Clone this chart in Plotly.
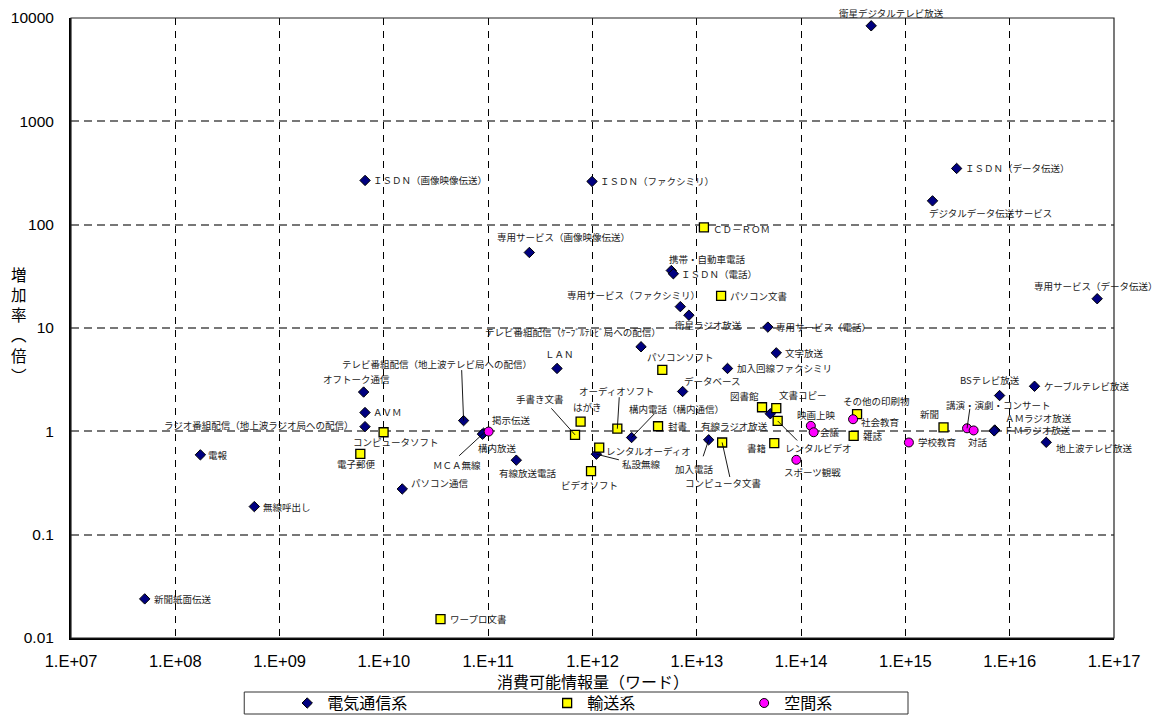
import math
import plotly.graph_objects as go

# ---- data -------------------------------------------------------------
# 電気通信系
tele_names = [
    "衛星デジタルテレビ放送", "ＩＳＤＮ（データ伝送）", "デジタルデータ伝送サービス",
    "専用サービス（データ伝送）", "ＩＳＤＮ（画像映像伝送）", "ＩＳＤＮ（ファクシミリ）",
    "専用サービス（画像映像伝送）", "携帯・自動車電話", "ＩＳＤＮ（電話）",
    "専用サービス（ファクシミリ）", "衛星ラジオ放送", "専用サービス（電話）",
    "テレビ番組配信（ｹｰﾌﾞﾙﾃﾚﾋﾞ局への配信）", "文字放送", "加入回線ファクシミリ",
    "ＬＡＮ", "データベース", "テレビ番組配信（地上波テレビ局への配信）",
    "オフトーク通信", "ＡＶＭ", "ラジオ番組配信（地上波ラジオ局への配信）",
    "電報", "無線呼出し", "パソコン通信", "新聞紙面伝送", "ＭＣＡ無線", "構内放送",
    "有線放送電話", "構内電話（構内通信）", "私設無線", "加入電話", "有線ラジオ放送",
    "BSテレビ放送", "ケーブルテレビ放送", "ＡＭラジオ放送", "ＦＭラジオ放送",
    "地上波テレビ放送",
]
tele_x = [
    4.7e14, 3.1e15, 1.82e15,
    6.9e16, 6.6e9, 9.9e11,
    2.48e11, 5.7e12, 5.96e12,
    6.95e12, 8.4e12, 4.8e13,
    2.92e12, 5.78e13, 1.97e13,
    4.57e11, 7.31e12, 5.81e10,
    6.39e9, 6.59e9, 6.59e9,
    1.74e8, 5.72e8, 1.5e10, 5.09e7, 9.04e10, 8.8e10,
    1.86e11, 2.37e12, 1.09e12, 1.30e13, 5.07e13,
    8.0e15, 1.73e16, 7.2e15, 7.1e15,
    2.24e16,
]
tele_y = [
    8400, 350, 170,
    19.2, 268, 262,
    53.8, 36, 33.5,
    16.1, 13.3, 10.2,
    6.58, 5.75, 4.06,
    4.06, 2.43, 1.27,
    2.40, 1.52, 1.11,
    0.592, 0.187, 0.277, 0.0239, 0.96, 0.94,
    0.526, 0.871, 0.601, 0.828, 1.48,
    2.22, 2.73, 1.03, 1.01,
    0.783,
]

# 輸送系
trans_names = [
    "ＣＤ－ＲＯＭ", "パソコン文書", "パソコンソフト", "手書き文書", "はがき",
    "オーディオソフト", "封書", "レンタルオーディオ", "ビデオソフト", "コンピュータ文書",
    "図書館", "文書コピー", "レンタルビデオ", "書籍", "その他の印刷物", "雑誌", "新聞",
    "電子郵便", "コンピュータソフト", "ワープロ文書",
]
trans_x = [
    1.17e13, 1.71e13, 4.67e12, 6.8e11, 7.69e11,
    1.73e12, 4.25e12, 1.16e12, 9.68e11, 1.75e13,
    4.22e13, 5.78e13, 5.96e13, 5.53e13, 3.44e14, 3.19e14, 2.32e15,
    5.94e9, 9.93e9, 3.49e10,
]
trans_y = [
    94, 20.5, 3.94, 0.925, 1.24,
    1.06, 1.12, 0.697, 0.412, 0.78,
    1.71, 1.68, 1.26, 0.769, 1.47, 0.905, 1.09,
    0.605, 0.98, 0.0152,
]

# 空間系
space_names = [
    "掲示伝送", "映画上映", "会議", "社会教育", "スポーツ観戦", "学校教育",
    "講演・演劇・コンサート", "対話",
]
space_x = [1.01e11, 1.24e14, 1.32e14, 3.15e14, 9.0e13, 1.08e15, 3.9e15, 4.51e15]
space_y = [0.995, 1.13, 0.98, 1.31, 0.53, 0.78, 1.07, 1.02]

x_tickvals = [1e7, 1e8, 1e9, 1e10, 1e11, 1e12, 1e13, 1e14, 1e15, 1e16, 1e17]
x_ticktext = ["1.E+07", "1.E+08", "1.E+09", "1.E+10", "1.E+11", "1.E+12",
              "1.E+13", "1.E+14", "1.E+15", "1.E+16", "1.E+17"]
y_tickvals = [0.01, 0.1, 1, 10, 100, 1000, 10000]
y_ticktext = ["0.01", "0.1", "1", "10", "100", "1000", "10000"]

# ---- label placement (anchor, dx, dy in screen px; dy>0 is downward) ----
label_pos = {
    "衛星デジタルテレビ放送": ("c", 20, -13),
    "ＩＳＤＮ（データ伝送）": ("l", 6, 0),
    "デジタルデータ伝送サービス": ("c", 58, 12),
    "専用サービス（データ伝送）": ("c", -1, -13),
    "ＩＳＤＮ（画像映像伝送）": ("l", 6, 0),
    "ＩＳＤＮ（ファクシミリ）": ("l", 6, 0),
    "専用サービス（画像映像伝送）": ("c", 34, -15),
    "携帯・自動車電話": ("c", 36, -12),
    "ＩＳＤＮ（電話）": ("l", 6, 0),
    "専用サービス（ファクシミリ）": ("c", -47, -12),
    "衛星ラジオ放送": ("c", 20, 10),
    "専用サービス（電話）": ("l", 6, 0),
    "テレビ番組配信（ｹｰﾌﾞﾙﾃﾚﾋﾞ局への配信）": ("c", -68, -15),
    "文字放送": ("l", 7, 0),
    "加入回線ファクシミリ": ("l", 7, 0),
    "ＬＡＮ": ("c", 2, -14),
    "データベース": ("c", 30, -10),
    "テレビ番組配信（地上波テレビ局への配信）": ("c", -27, -57),
    "オフトーク通信": ("c", -7, -13),
    "ＡＶＭ": ("l", 6, -1),
    "ラジオ番組配信（地上波ラジオ局への配信）": ("r", -9, -2),
    "電報": ("l", 6, 0),
    "無線呼出し": ("l", 7, 0),
    "パソコン通信": ("l", 7, -6),
    "新聞紙面伝送": ("l", 7, 0),
    "ＭＣＡ無線": ("c", -27, 32),
    "構内放送": ("c", 15, 14),
    "有線放送電話": ("c", 12, 13),
    "構内電話（構内通信）": ("c", 45, -29),
    "私設無線": ("c", 45, 10),
    "加入電話": ("c", -14, 29),
    "有線ラジオ放送": ("c", -36, 12),
    "BSテレビ放送": ("c", -10, -16),
    "ケーブルテレビ放送": ("l", 7, 0),
    "ＡＭラジオ放送": ("l", 8, -12),
    "ＦＭラジオ放送": ("l", 8, -1),
    "地上波テレビ放送": ("l", 8, 6),
    "ＣＤ－ＲＯＭ": ("l", 7, 2),
    "パソコン文書": ("l", 7, 0),
    "パソコンソフト": ("c", 18, -13),
    "手書き文書": ("c", -35, -36),
    "はがき": ("c", 7, -15),
    "オーディオソフト": ("c", -1, -38),
    "封書": ("l", 8, 0),
    "レンタルオーディオ": ("l", 5, 3),
    "ビデオソフト": ("c", -2, 14),
    "コンピュータ文書": ("c", 1, 41),
    "図書館": ("c", -18, -11),
    "文書コピー": ("c", 27, -13),
    "レンタルビデオ": ("c", 41, 27),
    "書籍": ("r", -6, 5),
    "その他の印刷物": ("c", 19, -13),
    "雑誌": ("l", 7, 0),
    "新聞": ("c", -14, -13),
    "電子郵便": ("c", -4, 10),
    "コンピュータソフト": ("c", 12, 10),
    "ワープロ文書": ("l", 7, 0),
    "掲示伝送": ("c", 23, -12),
    "映画上映": ("c", 6, -11),
    "会議": ("l", 4, 0),
    "社会教育": ("l", 6, 3),
    "スポーツ観戦": ("c", 16, 12),
    "学校教育": ("l", 7, 0),
    "講演・演劇・コンサート": ("c", 31, -23),
    "対話": ("c", 4, 12),
}

# leader lines: tail offset (px) from the marker
leaders = {
    "テレビ番組配信（地上波テレビ局への配信）": (-2, -52),
    "ＭＣＡ無線": (-26, 24),
    "構内電話（構内通信）": (24, -25),
    "私設無線": (24, 6),
    "加入電話": (-6, 18),
    "手書き文書": (-25, -28),
    "オーディオソフト": (2, -33),
    "コンピュータ文書": (8, 36),
    "レンタルビデオ": (21, 21),
    "講演・演劇・コンサート": (3, -21),
}

LABEL_FONT = dict(family="Noto Sans CJK JP", size=9.5, color="#1a1a1a")

fig = go.Figure()

groups = [
    ("電気通信系", tele_names, tele_x, tele_y,
     dict(symbol="diamond", size=8, color="#000080", line=dict(color="black", width=1))),
    ("輸送系", trans_names, trans_x, trans_y,
     dict(symbol="square", size=9, color="#FFFF00", line=dict(color="black", width=1.3))),
    ("空間系", space_names, space_x, space_y,
     dict(symbol="circle", size=9, color="#FF00FF", line=dict(color="black", width=1))),
]

annotations = []
for i, (gname, names, xs, ys, mk) in enumerate(groups):
    fig.add_trace(go.Scatter(
        x=xs, y=ys, mode="markers", name=gname, marker=mk,
        text=names, hoverinfo="text+x+y", showlegend=True,
        legend="legend" if i == 0 else f"legend{i + 1}",
    ))
    for n, xv, yv in zip(names, xs, ys):
        # annotations on log axes are placed in log10 units
        lx, ly = math.log10(xv), math.log10(yv)
        if n in leaders:
            ax, ay = leaders[n]
            annotations.append(dict(
                x=lx, y=ly, xref="x", yref="y", text="", showarrow=True,
                arrowhead=0, arrowwidth=0.9, arrowcolor="black",
                ax=ax, ay=ay, axref="pixel", ayref="pixel", standoff=0,
            ))
        anc, dx, dy = label_pos[n]
        annotations.append(dict(
            x=lx, y=ly, xref="x", yref="y", text=n, showarrow=False,
            xanchor={"l": "left", "r": "right", "c": "center"}[anc],
            yanchor="middle", xshift=dx, yshift=-dy, font=LABEL_FONT,
        ))

# axis titles
annotations.append(dict(
    x=0.5006, y=-0.0700, xref="paper", yref="paper", text="消費可能情報量（ワード）",
    showarrow=False, xanchor="center", yanchor="middle",
    font=dict(family="Noto Sans CJK JP", size=16, color="black"),
))
annotations.append(dict(
    x=-0.0495, y=0.505, xref="paper", yref="paper",
    text="増<br>加<br>率<br>︵<br>倍<br>︶",
    showarrow=False, xanchor="center", yanchor="middle",
    font=dict(family="Noto Sans CJK JP", size=15.5, color="black"),
))

legend_common = dict(
    orientation="h", yanchor="middle", xanchor="left", y=-0.1050,
    bgcolor="rgba(0,0,0,0)", borderwidth=0,
    font=dict(family="Noto Sans CJK JP", size=16, color="black"),
)

fig.update_layout(
    width=1163, height=726,
    margin=dict(l=71, r=49, t=18, b=88, autoexpand=False),
    paper_bgcolor="white", plot_bgcolor="white",
    font=dict(family="Liberation Sans, Arial", color="black"),
    showlegend=True,
    annotations=annotations,
    legend=dict(x=0.2073, **legend_common),
    legend2=dict(x=0.4565, **legend_common),
    legend3=dict(x=0.6454, **legend_common),
    shapes=[
        # plot frame
        dict(type="rect", xref="paper", yref="paper", x0=0, x1=1, y0=0, y1=1,
             line=dict(color="#222", width=1.2), layer="above"),
        # legend box
        dict(type="rect", xref="paper", yref="paper", x0=0.1661, x1=0.8025,
             y0=-0.1226, y1=-0.0871, line=dict(color="#333", width=1), layer="above"),
    ],
)

fig.update_xaxes(
    type="log", range=[7, 17], tickvals=x_tickvals, ticktext=x_ticktext,
    tickfont=dict(family="Liberation Sans, Arial", size=16.5, color="black"),
    showgrid=True, gridcolor="black", gridwidth=1, griddash="7px,6px",
    showline=True, linecolor="black", linewidth=2,
    ticks="", ticklabelstandoff=7, zeroline=False,
)
fig.update_yaxes(
    type="log", range=[-2, 4], tickvals=y_tickvals, ticktext=y_ticktext,
    tickfont=dict(family="Liberation Sans, Arial", size=15.5, color="black"),
    showgrid=True, gridcolor="#777777", gridwidth=1.5, griddash="8px,5px",
    showline=True, linecolor="black", linewidth=2,
    ticks="", ticklabelstandoff=12, zeroline=False,
)

fig.write_html("out.html")
